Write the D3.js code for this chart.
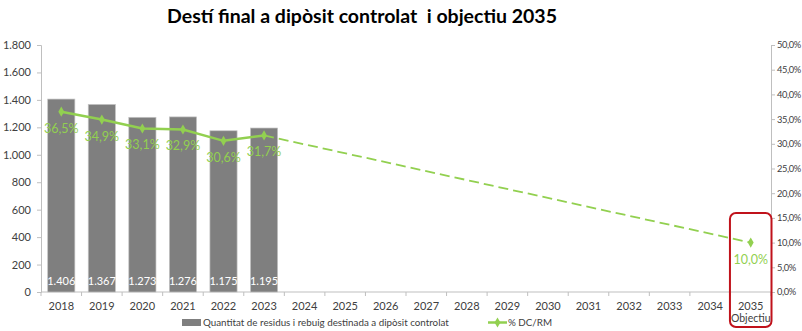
<!DOCTYPE html>
<html>
<head>
<meta charset="utf-8">
<script src="https://cdn.jsdelivr.net/npm/d3@7"></script>
<style>
  body { margin: 0; background: #fff; }
  svg { display: block; font-family: Lato, "Open Sans", sans-serif; }
  .title { white-space: pre; }
</style>
</head>
<body>
<svg id="chart" width="802" height="331"></svg>
<script>
const years = ["2018","2019","2020","2021","2022","2023","2024","2025","2026","2027","2028","2029","2030","2031","2032","2033","2034","2035"];
const barYears = ["2018","2019","2020","2021","2022","2023"];
const barValues = [1406, 1367, 1273, 1276, 1175, 1195];
const pctYears = ["2018","2019","2020","2021","2022","2023"];
const pctValues = [36.5, 34.9, 33.1, 32.9, 30.6, 31.7];
const targetYear = "2035";
const targetValue = 10.0;
const leftTicks = [0, 200, 400, 600, 800, 1000, 1200, 1400, 1600, 1800];
const rightTicks = [0, 5, 10, 15, 20, 25, 30, 35, 40, 45, 50];

const title = "Destí final a dipòsit controlat  i objectiu 2035";
const barLegend = "Quantitat de residus i rebuig destinada a dipòsit controlat";
const lineLegend = "% DC/RM";

const svg = d3.select("#chart");
const plotL = 41, plotR = 771, plotT = 45, plotB = 292;
const fmtNum = d3.formatLocale({decimal: ",", thousands: ".", grouping: [3]}).format(",d");
const fmtPct = v => d3.format(".1f")(v).replace(".", ",") + "%";

const x = d3.scaleBand().domain(years).range([plotL, plotR]).paddingInner(0.33).paddingOuter(0.165);
const xc = d => x(d) + x.bandwidth() / 2;
const yL = d3.scaleLinear().domain([0, 1800]).range([plotB, plotT]);
const yR = d3.scaleLinear().domain([0, 50]).range([plotB, plotT]);

const axisColor = "#bfbfbf", textColor = "#404040";
const green = "#92d050", barColor = "#7f7f7f";

// title
svg.append("text").attr("class", "title").attr("x", 362).attr("y", 23).attr("text-anchor", "middle")
  .attr("font-size", 19.5).attr("font-weight", "bold").attr("fill", "#000").text(title);

// left axis
const gL = svg.append("g").attr("transform", `translate(${plotL},0)`)
  .call(d3.axisLeft(yL).tickValues(leftTicks).tickSize(4).tickPadding(6).tickFormat(fmtNum));
gL.select(".domain").attr("stroke", axisColor);
gL.selectAll(".tick line").attr("stroke", axisColor);
gL.selectAll("text").attr("font-size", 11).attr("fill", textColor);
gL.attr("font-family", null);

// right axis
const gR = svg.append("g").attr("transform", `translate(${plotR},0)`)
  .call(d3.axisRight(yR).tickValues(rightTicks).tickSize(4).tickPadding(2).tickFormat(fmtPct));
gR.select(".domain").attr("stroke", axisColor);
gR.selectAll(".tick line").attr("stroke", axisColor);
gR.selectAll("text").attr("font-size", 9.3).attr("letter-spacing", -0.4).attr("fill", textColor);
gR.attr("font-family", null);

// x axis with ticks at category boundaries
const step = x.step();
const gX = svg.append("g");
gX.append("line").attr("x1", plotL).attr("x2", plotR).attr("y1", plotB).attr("y2", plotB).attr("stroke", axisColor);
gX.selectAll("line.tk").data(d3.range(years.length + 1)).join("line").attr("class", "tk")
  .attr("x1", i => plotL + i * step).attr("x2", i => plotL + i * step)
  .attr("y1", plotB).attr("y2", plotB + 4).attr("stroke", axisColor);
gX.selectAll("text.yr").data(years).join("text").attr("class", "yr")
  .attr("x", xc).attr("y", plotB + 18).attr("text-anchor", "middle")
  .attr("font-size", 11).attr("fill", textColor).text(d => d);
svg.append("text").attr("x", xc(targetYear)).attr("y", plotB + 30).attr("text-anchor", "middle")
  .attr("font-size", 10.5).attr("fill", textColor).text("Objectiu");

// bars
svg.selectAll("rect.bar").data(barValues).join("rect").attr("class", "bar")
  .attr("x", (d, i) => x(barYears[i])).attr("width", x.bandwidth())
  .attr("y", d => yL(d)).attr("height", d => plotB - yL(d))
  .attr("fill", barColor).attr("stroke", "#c4c4c4").attr("stroke-width", 0.7);
svg.selectAll("text.barlab").data(barValues).join("text").attr("class", "barlab")
  .attr("x", (d, i) => xc(barYears[i])).attr("y", plotB - 7).attr("text-anchor", "middle")
  .attr("font-size", 11).attr("fill", "#fff").text(d => fmtNum(d));

// percentage line
const line = d3.line().x(d => xc(d[0])).y(d => yR(d[1]));
const pts = pctYears.map((yr, i) => [yr, pctValues[i]]);
svg.append("path").datum(pts).attr("d", line).attr("fill", "none")
  .attr("stroke", green).attr("stroke-width", 2.5);
svg.append("path").datum([pts[pts.length - 1], [targetYear, targetValue]]).attr("d", line)
  .attr("fill", "none").attr("stroke", green).attr("stroke-width", 1.8).attr("stroke-dasharray", "10,5");

const allPts = pts.concat([[targetYear, targetValue]]);
const diamond = d3.symbol().type(d3.symbolDiamond).size(30);
svg.selectAll("path.mk").data(allPts).join("path").attr("class", "mk")
  .attr("d", diamond).attr("transform", d => `translate(${xc(d[0])},${yR(d[1])})`).attr("fill", green);
svg.selectAll("text.pct").data(allPts).join("text").attr("class", "pct")
  .attr("x", d => xc(d[0])).attr("y", d => yR(d[1]) + 21).attr("text-anchor", "middle")
  .attr("font-size", 12.5).attr("fill", green).text(d => fmtPct(d[1]));

// highlight box around target year
svg.append("rect").attr("x", x(targetYear) - x.step() * 0.165 - 0.5).attr("y", 213)
  .attr("width", x.step() + 1).attr("height", 114).attr("rx", 6)
  .attr("fill", "none").attr("stroke", "#c0121b").attr("stroke-width", 2);

// legend
const lg = svg.append("g");
lg.append("rect").attr("x", 182).attr("y", 319).attr("width", 19).attr("height", 7).attr("fill", barColor);
lg.append("text").attr("x", 203).attr("y", 326).attr("font-size", 9.8).attr("fill", textColor).text(barLegend);
lg.append("line").attr("x1", 488).attr("x2", 507).attr("y1", 322.5).attr("y2", 322.5).attr("stroke", green).attr("stroke-width", 2.5);
lg.append("path").attr("d", diamond).attr("transform", "translate(497.5,322.5)").attr("fill", green);
lg.append("text").attr("x", 508).attr("y", 326).attr("font-size", 9.8).attr("fill", textColor).text(lineLegend);
</script>
</body>
</html>
